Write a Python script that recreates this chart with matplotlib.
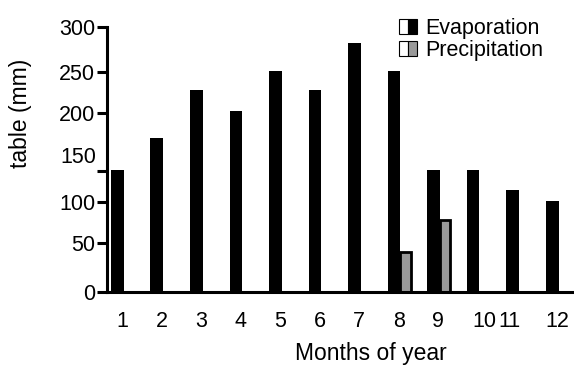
import numpy as np
import matplotlib
matplotlib.use("Agg")
import matplotlib.pyplot as plt
import matplotlib.transforms as mtransforms
from matplotlib.patches import Patch
from matplotlib.legend_handler import HandlerTuple

plt.rcParams['font.family'] = ['Liberation Sans', 'DejaVu Sans']
FS = 15.5
LFS = 16.5

# data
months = [1, 2, 3, 4, 5, 6, 7, 8, 9, 10, 11, 12]
month_labels = ['1', '2', '3', '4', '5', '6', '7', '8', '9', '10', '11', '12']
evaporation = [138, 174, 229, 205, 250, 229, 282, 250, 138, 138, 115, 103]
precipitation = [0, 0, 0, 0, 0, 0, 0, 45, 81, 0, 0, 0]

# the scanned axis has uneven tick spacing
ytick_vals = [0, 55, 102, 137, 203, 249, 300]
ytick_labels = ['0', '50', '100', '', '200', '250', '300']

fig = plt.figure(figsize=(5.74, 3.66), dpi=100)
ax = fig.add_axes([107 / 574, 74 / 366, 467 / 574, 265 / 366])

x = np.array(months)
ax.bar(x - 0.12, evaporation, width=0.32, color='black', zorder=2)
ax.bar(x + 0.17, precipitation, width=0.27, color='#999999',
       edgecolor='black', linewidth=2.0, zorder=2)

ax.set_xlim(0.62, 12.43)
ax.set_ylim(0, 300)

ax.set_xticks(x)
ax.set_xticklabels(month_labels)
ax.set_yticks(ytick_vals)
ax.set_yticklabels(ytick_labels)
ax.tick_params(axis='x', length=0, pad=14, labelsize=FS)
ax.tick_params(axis='y', length=7.5, width=2.2, pad=1, labelsize=FS)

# the "150" label sits off its tick in the original
ax.text(-0.024, 152, '150', transform=ax.get_yaxis_transform(),
        ha='right', va='center', fontsize=FS)

# nudge the crowded 10 / 11 labels like the original
labs = ax.get_xticklabels()
for lab, dx in ((labs[9], 6), (labs[10], -8)):
    lab.set_transform(lab.get_transform() +
                      mtransforms.ScaledTranslation(dx / 100, 0, fig.dpi_scale_trans))

for side in ('top', 'right'):
    ax.spines[side].set_visible(False)
ax.spines['left'].set_linewidth(2.2)
ax.spines['bottom'].set_linewidth(2.2)
ax.spines['left'].set_zorder(3)
ax.spines['bottom'].set_zorder(3)

ax.set_ylabel('table (mm)', fontsize=LFS)
ax.yaxis.set_label_coords(-0.16, 0.675)
ax.set_xlabel('Months of year', fontsize=LFS)
ax.xaxis.set_label_coords(0.565, -0.19)

evap_handle = (Patch(facecolor='white', edgecolor='black', linewidth=0.8),
               Patch(facecolor='black', edgecolor='black', linewidth=0.8))
prec_handle = (Patch(facecolor='white', edgecolor='black', linewidth=0.8),
               Patch(facecolor='#999999', edgecolor='black', linewidth=0.8))
fig.legend([evap_handle, prec_handle], ['Evaporation', 'Precipitation'],
           handler_map={tuple: HandlerTuple(ndivide=None, pad=0)},
           loc='upper left', bbox_to_anchor=(399 / 574, 1 - 18 / 366),
           frameon=False, fontsize=FS, borderpad=0, borderaxespad=0,
           handlelength=0.85, handleheight=0.75, handletextpad=0.35,
           labelspacing=0.05)

fig.savefig('out.png', dpi=100)
